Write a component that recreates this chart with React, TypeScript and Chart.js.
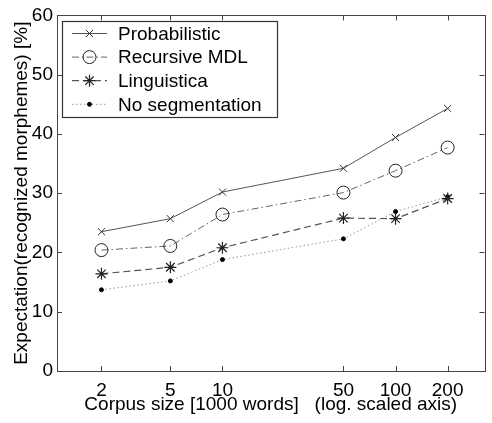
import React, { useEffect, useRef } from 'react';
import { Chart, registerables } from 'chart.js';
import { drawPoint } from 'chart.js/helpers';

Chart.register(...registerables);

const corpusSizes = [2, 5, 10, 50, 100, 200];
const probabilistic = [23.5, 25.7, 30.2, 34.2, 39.4, 44.3];
const recursiveMDL = [20.4, 21.1, 26.4, 30.1, 33.8, 37.7];
const linguistica = [16.4, 17.5, 20.8, 25.8, 25.7, 29.1];
const noSegmentation = [13.7, 15.2, 18.8, 22.3, 26.9, 29.4];
const seriesLabels = ['Probabilistic', 'Recursive MDL', 'Linguistica', 'No segmentation'];
const xTickValues = [2, 5, 10, 50, 100, 200];
const yTickValues = [0, 10, 20, 30, 40, 50, 60];
const xTitle = 'Corpus size [1000 words]   (log. scaled axis)';
const yTitle = 'Expectation(recognized morphemes) [%]';

const FONT = '"Liberation Sans", Arial, sans-serif';

const toPoints = (vals: number[]) => corpusSizes.map((x, i) => ({ x, y: vals[i] }));

const framePlugin = {
  id: 'frame',
  beforeDatasetsDraw(chart: any) {
    const { ctx, chartArea } = chart;
    const { left, right, top, bottom } = chartArea;
    const xs = chart.scales.x;
    const ys = chart.scales.y;
    ctx.save();
    ctx.strokeStyle = '#444';
    ctx.lineWidth = 1;
    ctx.strokeRect(Math.round(left) + 0.5, Math.round(top) + 0.5, Math.round(right - left), Math.round(bottom - top));
    const tl = 5;
    ctx.beginPath();
    xs.ticks.forEach((t: any) => {
      const px = Math.round(xs.getPixelForValue(t.value)) + 0.5;
      ctx.moveTo(px, bottom);
      ctx.lineTo(px, bottom - tl);
      ctx.moveTo(px, top);
      ctx.lineTo(px, top + tl);
    });
    ys.ticks.forEach((t: any) => {
      const py = Math.round(ys.getPixelForValue(t.value)) + 0.5;
      ctx.moveTo(left, py);
      ctx.lineTo(left + tl, py);
      ctx.moveTo(right, py);
      ctx.lineTo(right - tl, py);
    });
    ctx.stroke();
    ctx.restore();
  },
};

const legendPlugin = {
  id: 'matlabLegend',
  afterDraw(chart: any) {
    const { ctx } = chart;
    const bx = 62.5, by = 21.5, bw = 215, bh = 96;
    ctx.save();
    ctx.fillStyle = '#fff';
    ctx.fillRect(bx, by, bw, bh);
    ctx.strokeStyle = '#333';
    ctx.lineWidth = 1.2;
    ctx.strokeRect(bx, by, bw, bh);
    chart.data.datasets.forEach((ds: any, i: number) => {
      const y = 33.5 + i * 23.6;
      ctx.save();
      ctx.strokeStyle = ds.borderColor;
      ctx.lineWidth = ds.borderWidth;
      ctx.setLineDash(ds.borderDash || []);
      ctx.beginPath();
      ctx.moveTo(72, y);
      ctx.lineTo(107, y);
      ctx.stroke();
      ctx.restore();
      ctx.save();
      ctx.strokeStyle = ds.pointBorderColor;
      ctx.fillStyle = ds.pointBackgroundColor;
      ctx.lineWidth = ds.pointBorderWidth;
      drawPoint(ctx, { pointStyle: ds.pointStyle, radius: ds.pointRadius, rotation: 0, borderWidth: ds.pointBorderWidth }, 89.5, y);
      ctx.restore();
      ctx.fillStyle = '#000';
      ctx.font = `19px ${FONT}`;
      ctx.textBaseline = 'middle';
      ctx.textAlign = 'left';
      ctx.fillText(ds.label, 118, y + 1);
    });
    ctx.restore();
  },
};

export default function App() {
  const canvasRef = useRef<HTMLCanvasElement | null>(null);

  useEffect(() => {
    document.body.style.margin = '0';
    const canvas = canvasRef.current;
    if (!canvas) return;
    const chart = new Chart(canvas, {
      type: 'line',
      data: {
        datasets: [
          {
            label: seriesLabels[0],
            data: toPoints(probabilistic),
            borderColor: '#555',
            borderWidth: 1,
            borderDash: [],
            pointStyle: 'crossRot',
            pointRadius: 5,
            pointBorderColor: '#333',
            pointBackgroundColor: 'transparent',
            pointBorderWidth: 1,
          },
          {
            label: seriesLabels[1],
            data: toPoints(recursiveMDL),
            borderColor: '#666',
            borderWidth: 1,
            borderDash: [7, 3, 1.5, 3],
            pointStyle: 'circle',
            pointRadius: 6.5,
            pointBorderColor: '#222',
            pointBackgroundColor: 'transparent',
            pointBorderWidth: 1,
          },
          {
            label: seriesLabels[2],
            data: toPoints(linguistica),
            borderColor: '#555',
            borderWidth: 1.2,
            borderDash: [7, 4],
            pointStyle: 'star',
            pointRadius: 6,
            pointBorderColor: '#222',
            pointBackgroundColor: 'transparent',
            pointBorderWidth: 1.2,
          },
          {
            label: seriesLabels[3],
            data: toPoints(noSegmentation),
            borderColor: '#999',
            borderWidth: 1,
            borderDash: [1.5, 2.5],
            pointStyle: 'circle',
            pointRadius: 2,
            pointBorderColor: '#000',
            pointBackgroundColor: '#000',
            pointBorderWidth: 1,
          },
        ],
      },
      options: {
        animation: false,
        responsive: false,
        maintainAspectRatio: false,
        layout: { padding: { top: 15, right: 2, left: 0, bottom: 0 } },
        plugins: {
          legend: { display: false },
          tooltip: { enabled: false },
        },
        elements: { line: { tension: 0 } },
        scales: {
          x: {
            type: 'logarithmic',
            min: 1.107,
            max: 326.5,
            grid: { display: false, drawTicks: false },
            border: { display: false },
            afterBuildTicks: (scale: any) => {
              scale.ticks = xTickValues.map((v) => ({ value: v }));
            },
            afterFit: (scale: any) => {
              scale.height = 52;
            },
            ticks: {
              color: '#000',
              font: { family: FONT, size: 19 },
              padding: 8,
              autoSkip: false,
              maxRotation: 0,
              callback: (v: any) => String(v),
            },
            title: {
              display: true,
              text: xTitle,
              color: '#000',
              font: { family: FONT, size: 19 },
              padding: { top: 0, bottom: 7 },
            },
          },
          y: {
            type: 'linear',
            min: 0,
            max: 60,
            grid: { display: false, drawTicks: false },
            border: { display: false },
            afterBuildTicks: (scale: any) => {
              scale.ticks = yTickValues.map((v) => ({ value: v }));
            },
            afterFit: (scale: any) => {
              scale.width = 57;
            },
            ticks: {
              color: '#000',
              font: { family: FONT, size: 19 },
              padding: 4,
              callback: (v: any) => String(v),
            },
            title: {
              display: true,
              text: yTitle,
              color: '#000',
              font: { family: FONT, size: 19 },
              padding: { top: 10, bottom: 0 },
            },
          },
        },
      },
      plugins: [framePlugin, legendPlugin],
    } as any);
    return () => chart.destroy();
  }, []);

  return (
    <div style={{ width: 492, height: 423, background: '#fff' }}>
      <canvas ref={canvasRef} width={492} height={423} style={{ width: 492, height: 423, display: 'block' }} />
    </div>
  );
}
